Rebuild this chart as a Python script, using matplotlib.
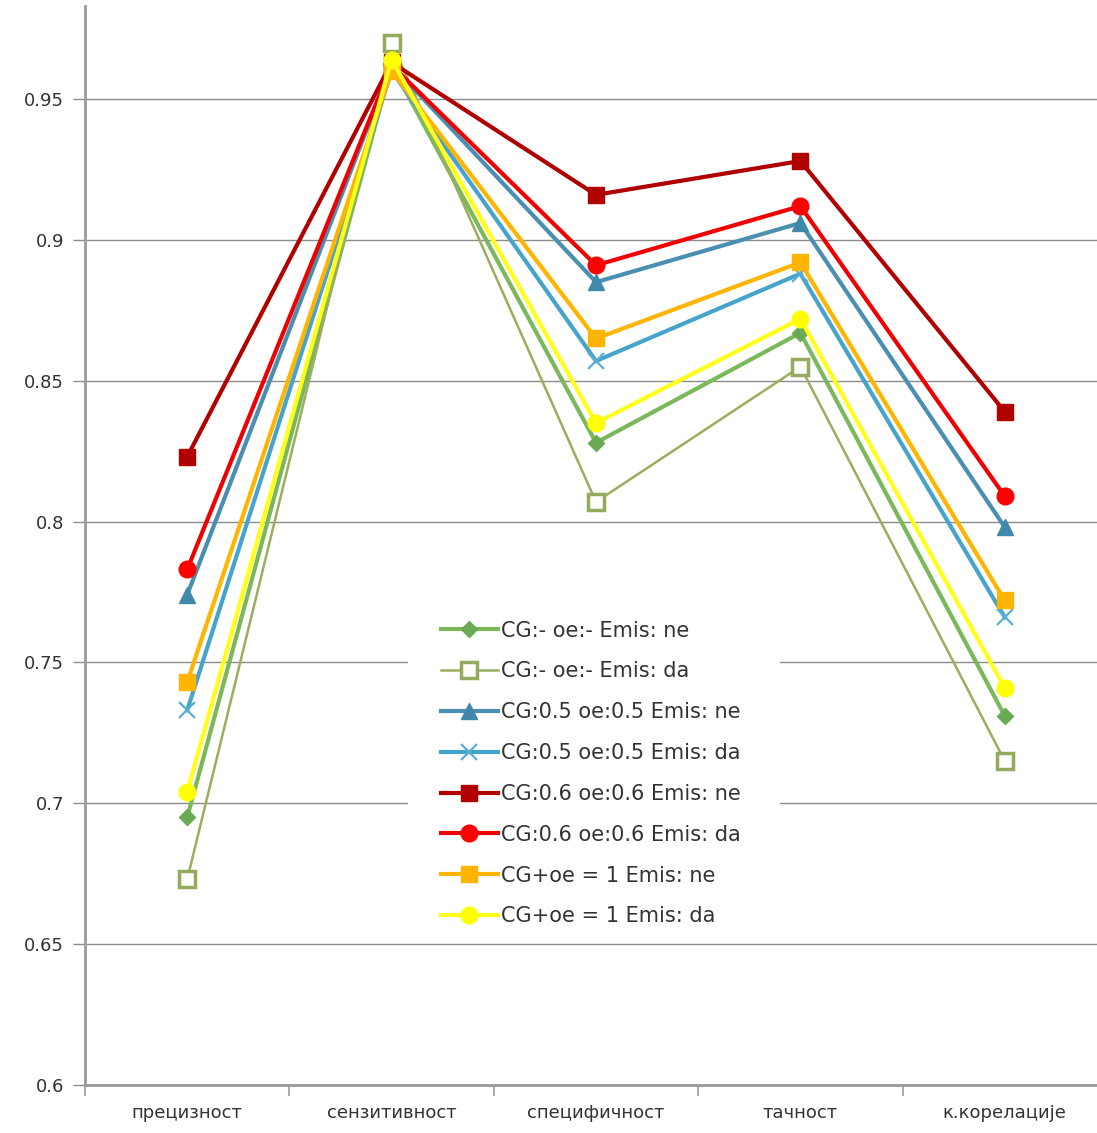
import matplotlib
matplotlib.use("Agg")
import matplotlib.pyplot as plt
from matplotlib.patches import Rectangle
import numpy as np

categories = ["прецизност", "сензитивност", "специфичност", "тачност", "к.корелације"]

labels = [
    "CG:- oe:- Emis: ne",
    "CG:- oe:- Emis: da",
    "CG:0.5 oe:0.5 Emis: ne",
    "CG:0.5 oe:0.5 Emis: da",
    "CG:0.6 oe:0.6 Emis: ne",
    "CG:0.6 oe:0.6 Emis: da",
    "CG+oe = 1 Emis: ne",
    "CG+oe = 1 Emis: da",
]

s_none_ne = [0.695, 0.962, 0.828, 0.867, 0.731]
s_none_da = [0.673, 0.970, 0.807, 0.855, 0.715]
s_05_ne = [0.774, 0.962, 0.885, 0.906, 0.798]
s_05_da = [0.733, 0.960, 0.857, 0.888, 0.766]
s_06_ne = [0.823, 0.963, 0.916, 0.928, 0.839]
s_06_da = [0.783, 0.962, 0.891, 0.912, 0.809]
s_sum_ne = [0.743, 0.960, 0.865, 0.892, 0.772]
s_sum_da = [0.704, 0.964, 0.835, 0.872, 0.741]

series = [s_none_ne, s_none_da, s_05_ne, s_05_da, s_06_ne, s_06_da, s_sum_ne, s_sum_da]

styles = [
    dict(color="#7AB85A", lw=3.0, marker="D", ms=8, mfc="#6AAA55", mec="#6AAA55"),
    dict(color="#9BAE5E", lw=1.8, marker="s", ms=12, mfc="white", mec="#94AA5C", mew=2.5),
    dict(color="#4A8FB2", lw=3.0, marker="^", ms=11, mfc="#3F88AC", mec="#3F88AC"),
    dict(color="#46A4CC", lw=3.0, marker="x", ms=12, mec="#5AAFD0", mew=1.6),
    dict(color="#B00000", lw=3.0, marker="s", ms=12, mfc="#B00000", mec="#B00000"),
    dict(color="#F00000", lw=3.0, marker="o", ms=12, mfc="#FF0000", mec="#FF0000"),
    dict(color="#FFB400", lw=3.0, marker="s", ms=12, mfc="#FFB400", mec="#FFB400"),
    dict(color="#FFFF1A", lw=3.0, marker="o", ms=12, mfc="#FFFF00", mec="#FFFF00"),
]

W, H = 1097, 1133
fig = plt.figure(figsize=(W / 100, H / 100), dpi=100)
left_px, bottom_px, top_px = 85, 1085, 6
ax = fig.add_axes([left_px / W, (H - bottom_px) / H, 1 - left_px / W, (bottom_px - top_px) / H])

x = np.arange(len(categories)) + 0.5
for vals, lab, st in zip(series, labels, styles):
    ax.plot(x, vals, label=lab, solid_joinstyle="miter", zorder=3, **st)

px_per_unit = 1022 / 5
ax.set_xlim(0, (W - left_px) / px_per_unit)
ax.set_ylim(0.6, 0.6 + (bottom_px - top_px) / 2817.0)

yt = np.arange(0.6, 0.951, 0.05)
ax.set_yticks(yt)
ax.set_yticklabels(["0.6", "0.65", "0.7", "0.75", "0.8", "0.85", "0.9", "0.95"])
ax.yaxis.grid(True, color="#8C8C8C", lw=1.0)
ax.set_axisbelow(True)

ax.set_xticks(np.arange(0, 5))
ax.set_xticklabels([])
ax.set_xticks(x, minor=True)
ax.set_xticklabels(categories, minor=True)
ax.tick_params(axis="x", which="minor", length=0, pad=14, labelsize=13, labelcolor="#333333")
ax.tick_params(axis="x", which="major", length=8, color="#9A9A9A", width=1.2, direction="out")
ax.tick_params(axis="y", length=9, color="#8C8C8C", width=1, direction="out", labelsize=13,
               labelcolor="#333333", pad=6)

for s in ["top", "right"]:
    ax.spines[s].set_visible(False)
ax.spines["left"].set_color("#9A9A9A")
ax.spines["left"].set_linewidth(2)
ax.spines["bottom"].set_color("#9A9A9A")
ax.spines["bottom"].set_linewidth(2)

# white legend area masking the gridlines behind it
ax.add_patch(Rectangle((408 / W, 1 - 935 / H), (780 - 408) / W, (935 - 606) / H,
                       transform=fig.transFigure, facecolor="white", edgecolor="none",
                       zorder=2, clip_on=False))

leg = ax.legend(loc="center left", bbox_to_anchor=(408 / W, 1 - 773.5 / H), bbox_transform=fig.transFigure,
                frameon=False, fontsize=15, labelspacing=1.0, handlelength=2.7, handletextpad=0.15,
                borderpad=1.6, borderaxespad=0, labelcolor="#333333")
leg.set_zorder(5)

fig.savefig("out.png", dpi=100, facecolor="white")
